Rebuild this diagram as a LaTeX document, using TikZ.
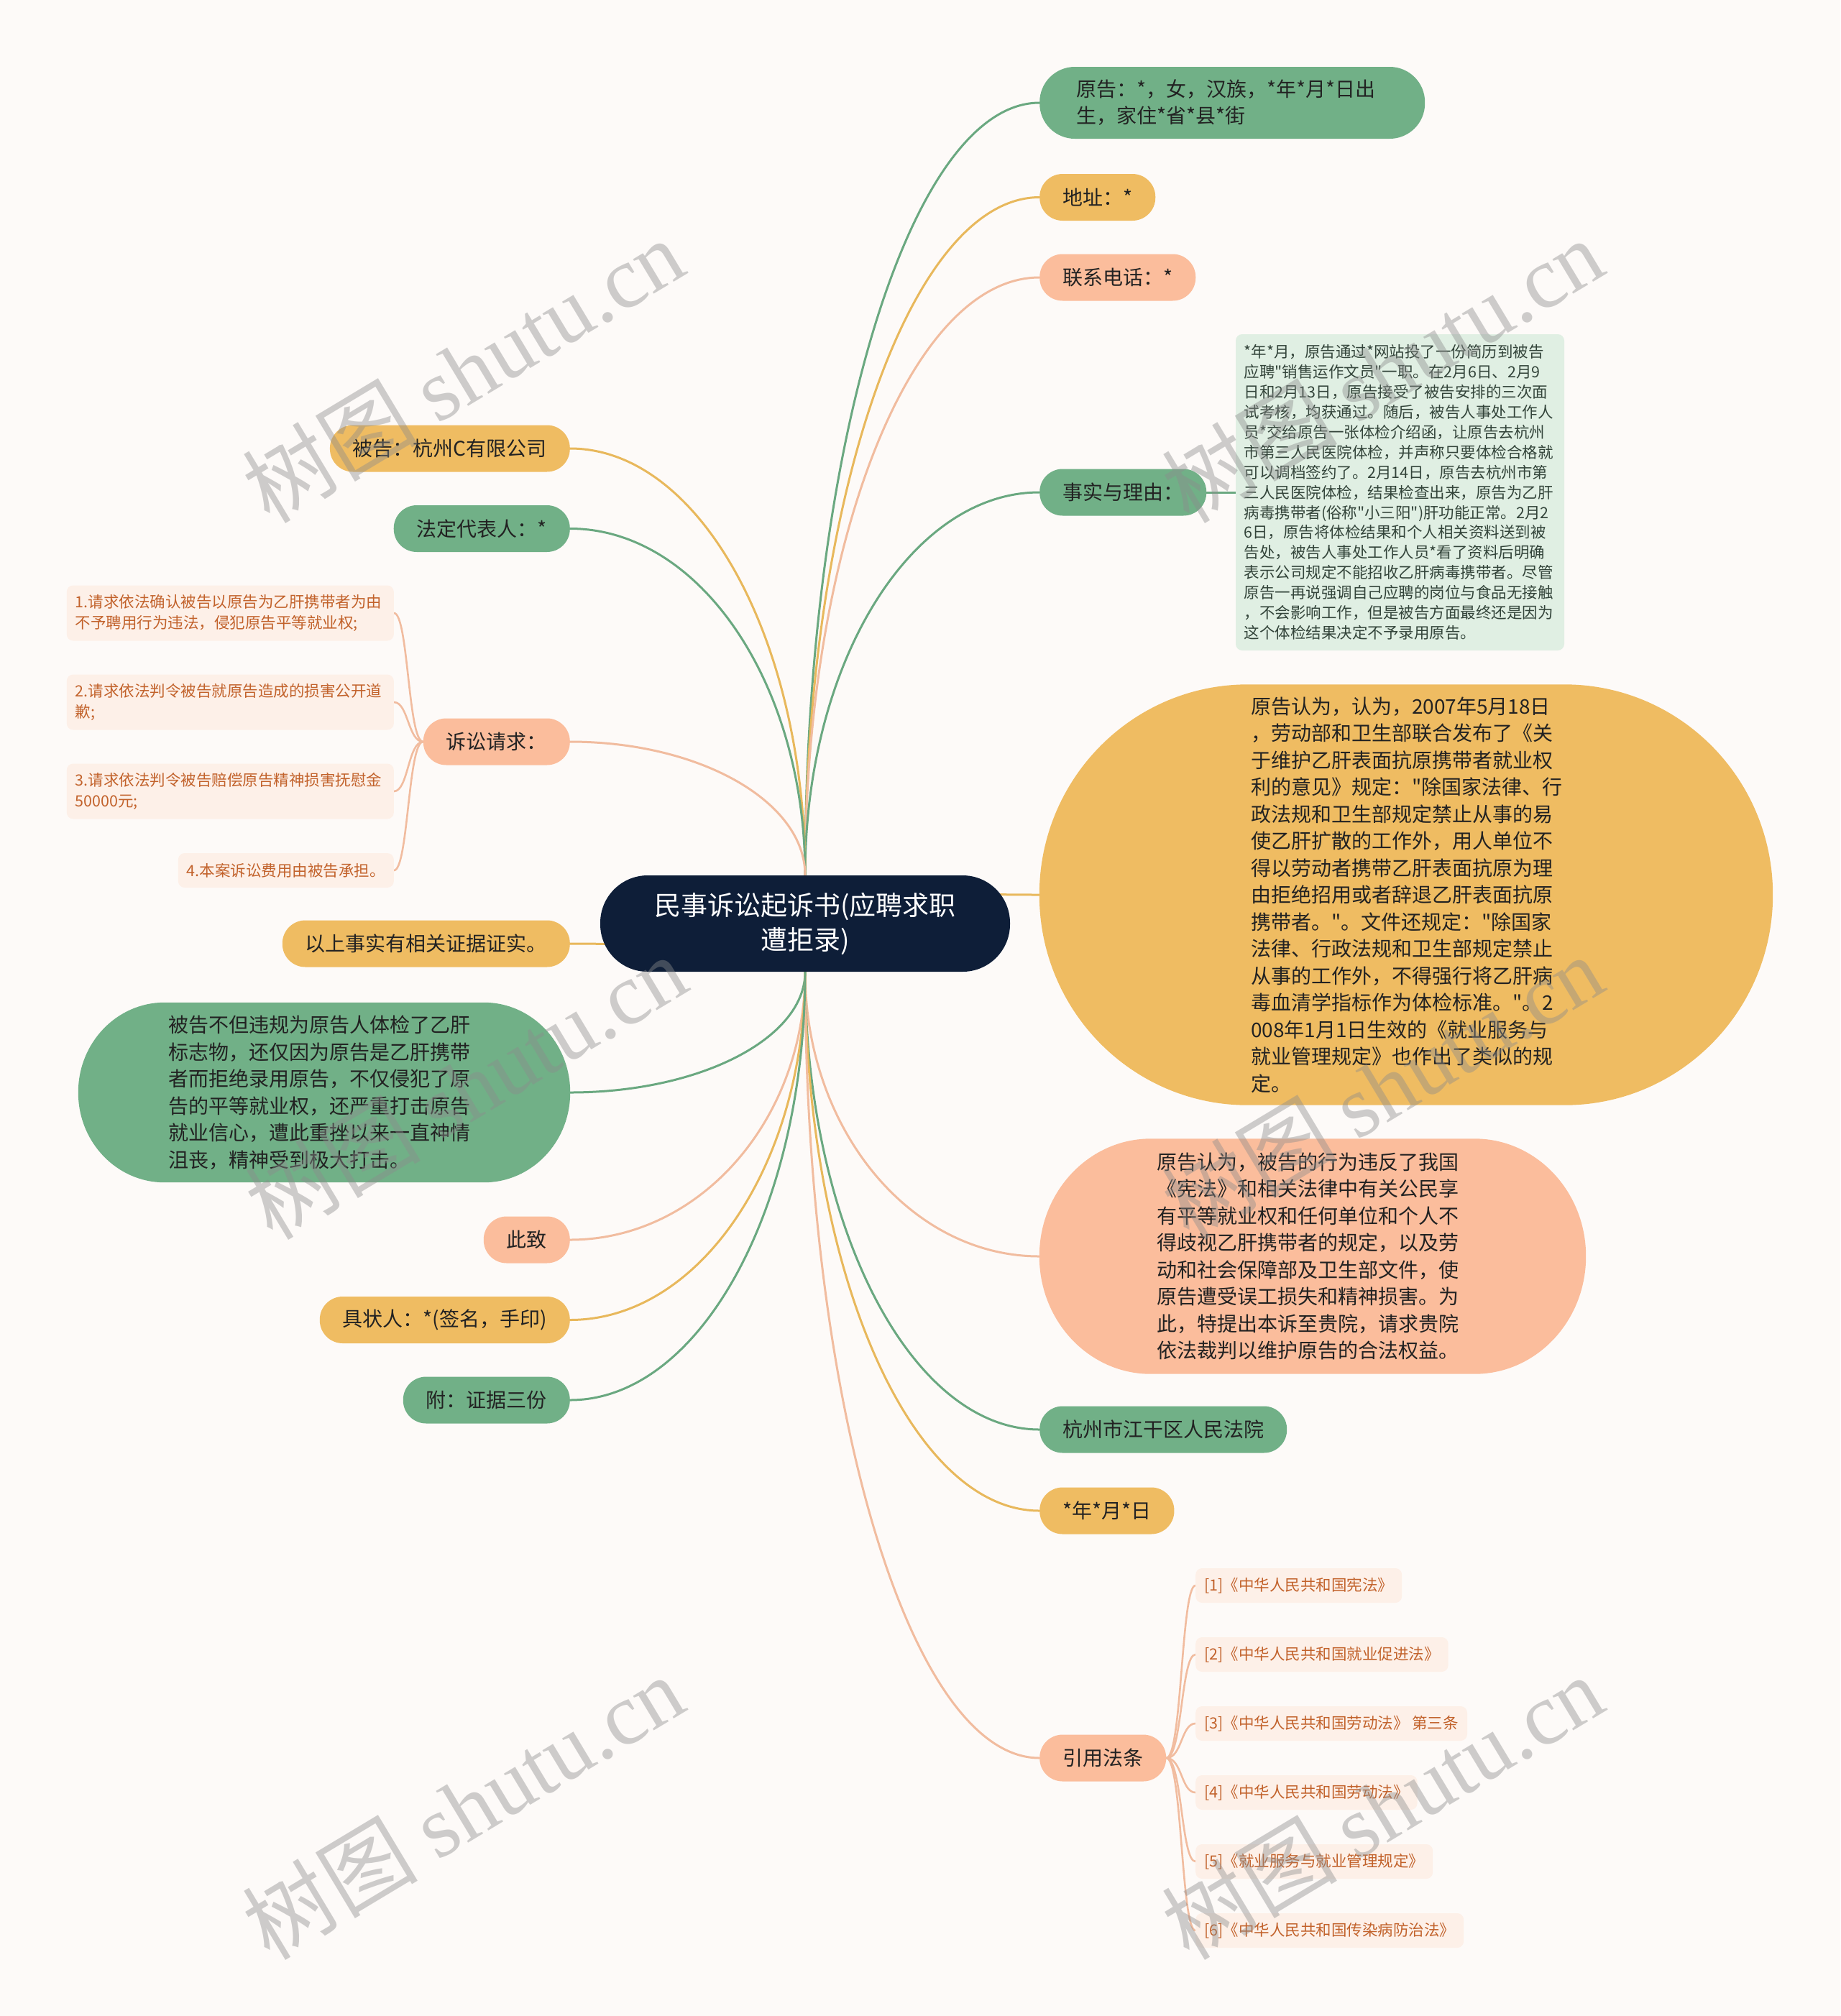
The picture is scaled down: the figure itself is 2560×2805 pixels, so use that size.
\documentclass[tikz,border=0pt]{standalone}
\usepackage{fontspec}
\setmainfont{Noto Sans CJK SC}[Ligatures=TeXOff]
\newfontfamily\wmserif{Liberation Serif}
\usetikzlibrary{calc}
\definecolor{bgc}{HTML}{FDFAF8}
\definecolor{rootc}{HTML}{0E1E38}
\definecolor{grn}{HTML}{71B087}
\definecolor{yel}{HTML}{EFBC62}
\definecolor{sal}{HTML}{FBBD9C}
\definecolor{grnl}{HTML}{6AA880}
\definecolor{yell}{HTML}{E8B85C}
\definecolor{sall}{HTML}{F1BC9F}
\definecolor{boxg}{HTML}{E0EFE3}
\definecolor{boxt}{HTML}{33443A}
\definecolor{leaf}{HTML}{FDF0E8}
\definecolor{leaft}{HTML}{C2622B}
\definecolor{txt}{HTML}{222222}
\definecolor{wmc}{HTML}{8C8C8C}
\pgfdeclarelayer{bgl}\pgfdeclarelayer{edgel}\pgfdeclarelayer{filll}
\pgfsetlayers{bgl,edgel,filll,main}
\newcommand{\conn}[3]{\draw[#1] (#2) .. controls ($(#2)!0.552!(#2 |- #3)$) and ($(#3)!0.552!(#2 |- #3)$) .. (#3);}
\newcommand{\ellpill}[4]{\fill[#1] ([xshift=#3]#2.north west) -- ([xshift=-#3]#2.north east) arc[start angle=90,end angle=0,x radius=#3,y radius=#4] -- ([yshift=#4]#2.south east) arc[start angle=0,end angle=-90,x radius=#3,y radius=#4] -- ([xshift=#3]#2.south west) arc[start angle=270,end angle=180,x radius=#3,y radius=#4] -- ([yshift=-#4]#2.north west) arc[start angle=180,end angle=90,x radius=#3,y radius=#4] -- cycle;}
\tikzset{
  lvl/.style={inner xsep=32pt, inner ysep=0pt, minimum height=65pt, rounded corners=32pt, font=\fontsize{28}{37}\selectfont, text=txt, align=left},
  gnode/.style={lvl, fill=grn},
  ynode/.style={lvl, fill=yel},
  snode/.style={lvl, fill=sal},
  bignode/.style={inner sep=0pt, font=\fontsize{28}{37.5}\selectfont, text=txt, align=left},
  leafnode/.style={fill=leaf, rounded corners=9pt, inner xsep=12pt, inner ysep=0pt, font=\fontsize{21.5}{28.2}\selectfont, text=leaft, align=left},
  ge/.style={draw=grnl, line width=3pt, line cap=round},
  ye/.style={draw=yell, line width=3pt, line cap=round},
  se/.style={draw=sall, line width=3pt, line cap=round},
  sube/.style={draw=sall, line width=2.6pt, line cap=round},
  wm/.style={rotate=31, text=wmc, opacity=0.42, font=\fontsize{122}{130}\selectfont, inner sep=0pt}
}
\begin{document}
\begin{tikzpicture}[x=1pt,y=1pt]
\useasboundingbox (0,0) rectangle (2560,-2805);
\begin{pgfonlayer}{bgl}
\fill[bgc] (0,0) rectangle (2560,-2805);
\end{pgfonlayer}

% root
\node[fill=rootc, text=white, rounded corners=66pt, minimum width=570pt, minimum height=134pt, inner sep=0pt, align=center, font=\fontsize{37}{48}\selectfont] (root) at (1120,-1285) {民事诉讼起诉书(应聘求职\\遭拒录)};

% right side
\node[gnode, anchor=west, minimum width=536pt, minimum height=100pt, text width=434pt, inner xsep=0pt, rounded corners=49pt] (n1) at (1446,-143) {原告：*，女，汉族，*年*月*日出\\生，家住*省*县*街};
\node[ynode, anchor=west] (n2) at (1446,-274.5) {地址：*};
\node[snode, anchor=west] (n3) at (1446,-386) {联系电话：*};
\node[gnode, anchor=west] (n4) at (1446,-685) {事实与理由：};
\node[fill=boxg, rounded corners=9pt, minimum width=457pt, minimum height=440pt, text width=434pt, inner sep=0pt, font=\fontsize{21.5}{27.9}\selectfont, text=boxt, align=left] (fbox) at (1947.5,-685) {*年*月，原告通过*网站投了一份简历到被告\\应聘"销售运作文员"一职。在2月6日、2月9\\日和2月13日，原告接受了被告安排的三次面\\试考核，均获通过。随后，被告人事处工作人\\员*交给原告一张体检介绍函，让原告去杭州\\市第三人民医院体检，并声称只要体检合格就\\可以调档签约了。2月14日，原告去杭州市第\\三人民医院体检，结果检查出来，原告为乙肝\\病毒携带者(俗称"小三阳")肝功能正常。2月2\\6日，原告将体检结果和个人相关资料送到被\\告处，被告人事处工作人员*看了资料后明确\\表示公司规定不能招收乙肝病毒携带者。尽管\\原告一再说强调自己应聘的岗位与食品无接触\\，不会影响工作，但是被告方面最终还是因为\\这个体检结果决定不予录用原告。};
\node[bignode, minimum width=1020pt, minimum height=585pt, text width=432pt] (yb) at (1956,-1245) {原告认为，认为，2007年5月18日\\，劳动部和卫生部联合发布了《关\\于维护乙肝表面抗原携带者就业权\\利的意见》规定："除国家法律、行\\政法规和卫生部规定禁止从事的易\\使乙肝扩散的工作外，用人单位不\\得以劳动者携带乙肝表面抗原为理\\由拒绝招用或者辞退乙肝表面抗原\\携带者。"。文件还规定："除国家\\法律、行政法规和卫生部规定禁止\\从事的工作外，不得强行将乙肝病\\毒血清学指标作为体检标准。"。2\\008年1月1日生效的《就业服务与\\就业管理规定》也作出了类似的规\\定。};
\node[bignode, minimum width=760pt, minimum height=327pt, text width=434pt] (sb) at (1826,-1748) {原告认为，被告的行为违反了我国\\《宪法》和相关法律中有关公民享\\有平等就业权和任何单位和个人不\\得歧视乙肝携带者的规定，以及劳\\动和社会保障部及卫生部文件，使\\原告遭受误工损失和精神损害。为\\此，特提出本诉至贵院，请求贵院\\依法裁判以维护原告的合法权益。};
\node[gnode, anchor=west] (n7) at (1446,-1989) {杭州市江干区人民法院};
\node[ynode, anchor=west] (n8) at (1446,-2102) {*年*月*日};
\node[snode, anchor=west] (n9) at (1446,-2446) {引用法条};
\node[leafnode, anchor=west, minimum height=48pt] (r1) at (1663,-2206) {[1]《中华人民共和国宪法》};
\node[leafnode, anchor=west, minimum height=48pt] (r2) at (1663,-2302) {[2]《中华人民共和国就业促进法》};
\node[leafnode, anchor=west, minimum height=48pt] (r3) at (1663,-2398) {[3]《中华人民共和国劳动法》 第三条};
\node[leafnode, anchor=west, minimum height=48pt] (r4) at (1663,-2494) {[4]《中华人民共和国劳动法》};
\node[leafnode, anchor=west, minimum height=48pt] (r5) at (1663,-2590) {[5]《就业服务与就业管理规定》};
\node[leafnode, anchor=west, minimum height=48pt] (r6) at (1663,-2686) {[6]《中华人民共和国传染病防治法》};

% left side
\node[ynode, anchor=east] (m1) at (793,-624) {被告：杭州C有限公司};
\node[gnode, anchor=east] (m2) at (793,-735.5) {法定代表人：*};
\node[snode, anchor=east] (m3) at (793,-1032) {诉讼请求：};
\node[leafnode, anchor=east, text width=431pt, minimum height=77pt] (c1) at (548,-853) {1.请求依法确认被告以原告为乙肝携带者为由\\不予聘用行为违法，侵犯原告平等就业权;};
\node[leafnode, anchor=east, text width=431pt, minimum height=77pt] (c2) at (548,-977) {2.请求依法判令被告就原告造成的损害公开道\\歉;};
\node[leafnode, anchor=east, text width=431pt, minimum height=77pt] (c3) at (548,-1101) {3.请求依法判令被告赔偿原告精神损害抚慰金\\50000元;};
\node[leafnode, anchor=east, minimum height=48pt] (c4) at (548,-1211) {4.本案诉讼费用由被告承担。};
\node[ynode, anchor=east] (m4) at (793,-1313) {以上事实有相关证据证实。};
\node[bignode, minimum width=684pt, minimum height=250pt, text width=434pt] (gb) at (451,-1520) {被告不但违规为原告人体检了乙肝\\标志物，还仅因为原告是乙肝携带\\者而拒绝录用原告，不仅侵犯了原\\告的平等就业权，还严重打击原告\\就业信心，遭此重挫以来一直神情\\沮丧，精神受到极大打击。};
\node[snode, anchor=east] (m6) at (793,-1725) {此致};
\node[ynode, anchor=east] (m7) at (793,-1836.5) {具状人：*(签名，手印)};
\node[gnode, anchor=east] (m8) at (793,-1948) {附：证据三份};

\begin{pgfonlayer}{filll}
\ellpill{yel}{yb}{290pt}{292.5pt}
\ellpill{sal}{sb}{155pt}{163.5pt}
\ellpill{grn}{gb}{120pt}{125pt}
\end{pgfonlayer}

\begin{pgfonlayer}{edgel}
\conn{ge}{root.north}{n1.west}
\conn{ye}{root.north}{n2.west}
\conn{se}{root.north}{n3.west}
\conn{ge}{root.north}{n4.west}
\conn{ye}{root.north}{yb.west}
\conn{se}{root.south}{sb.west}
\conn{ge}{root.south}{n7.west}
\conn{ye}{root.south}{n8.west}
\conn{se}{root.south}{n9.west}
\conn{ye}{root.north}{m1.east}
\conn{ge}{root.north}{m2.east}
\conn{se}{root.north}{m3.east}
\conn{ye}{root.south}{m4.east}
\conn{ge}{root.south}{gb.east}
\conn{se}{root.south}{m6.east}
\conn{ye}{root.south}{m7.east}
\conn{ge}{root.south}{m8.east}
\draw[ge] (n4.east) -- (fbox.west);
\foreach \c in {c1,c2,c3,c4}{
  \draw[sube] (m3.west) .. controls ($(m3.west)+(-21,0)$) and ($(\c.east)+(20,0)$) .. (\c.east);
}
\foreach \r in {r1,r2,r3,r4,r5,r6}{
  \draw[sube] (n9.east) .. controls ($(n9.east)+(22,0)$) and ($(\r.west)+(-20,0)$) .. (\r.west);
}
\end{pgfonlayer}

% watermarks
\node[wm] (wm1) at (644,-515) {树图 {\wmserif shutu.cn}};
\node[wm] (wm2) at (1923,-515) {树图 {\wmserif shutu.cn}};
\node[wm] (wm3) at (648,-1512) {树图 {\wmserif shutu.cn}};
\node[wm] (wm4) at (1923,-1512) {树图 {\wmserif shutu.cn}};
\node[wm] (wm5) at (644,-2514) {树图 {\wmserif shutu.cn}};
\node[wm] (wm6) at (1923,-2514) {树图 {\wmserif shutu.cn}};
\end{tikzpicture}
\end{document}
